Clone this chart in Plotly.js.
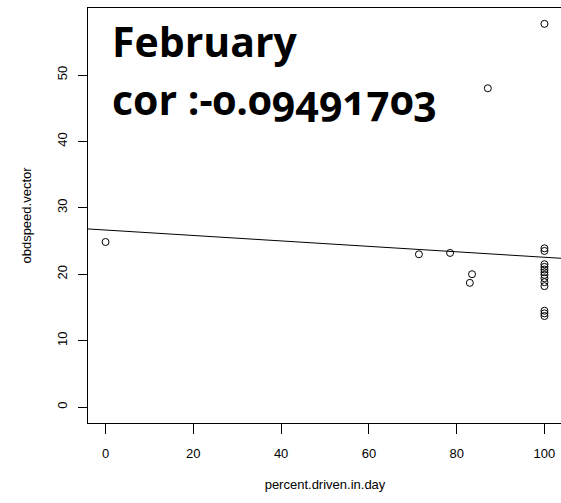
<!DOCTYPE html>
<html>
<head>
<meta charset="utf-8">
<script src="https://cdn.plot.ly/plotly-3.0.1.min.js"></script>
<style>
  html, body { margin: 0; padding: 0; overflow: hidden; background: #fff; }
  .annotation-text {
    font-variant-numeric: oldstyle-nums !important;
    font-feature-settings: "onum" 1 !important;
  }
</style>
</head>
<body>
<div id="chart"></div>
<script>
// February: share of the day driven vs. observed speed
const percentDriven = [0, 71.4, 78.5, 83.5, 83.0, 87.1, 100,
  100, 100, 100, 100, 100, 100, 100, 100, 100, 100, 100, 100, 100];
const obdSpeed = [24.85, 23.0, 23.2, 20.0, 18.7, 48.0, 57.7,
  23.9, 23.5, 21.5, 21.1, 20.7, 20.3, 19.9, 19.4, 18.8, 18.2, 14.5, 14.1, 13.7];

// least-squares fit line
const fitIntercept = 26.65;
const fitSlope = -0.041;
const fitX = [-4, 104];

const xTicks = [0, 20, 40, 60, 80, 100];
const yTicks = [0, 10, 20, 30, 40, 50];

const titleText = "February";
const corText = "cor :-0.09491703";

const fitY = fitX.map(x => fitIntercept + fitSlope * x);

const axisFont = { family: "Liberation Sans, Arial, sans-serif", size: 13, color: "#000" };
const noteFont = { family: "'Open Sans', Lato, sans-serif", size: 41, color: "#000" };

const traces = [
  {
    x: percentDriven, y: obdSpeed, type: "scatter", mode: "markers",
    marker: { symbol: "circle-open", size: 7, color: "#000", line: { width: 1, color: "#000" } },
    hoverinfo: "x+y"
  },
  {
    x: fitX, y: fitY, type: "scatter", mode: "lines",
    line: { color: "#000", width: 1 }, hoverinfo: "skip"
  }
];

const layout = {
  width: 563, height: 503,
  margin: { l: 88, r: 1, t: 8, b: 80 },
  paper_bgcolor: "#fff", plot_bgcolor: "#fff",
  showlegend: false,
  font: axisFont,
  xaxis: {
    range: [-4, 104], tickvals: xTicks, ticktext: xTicks.map(String),
    ticks: "outside", ticklen: 10, tickcolor: "#000", tickwidth: 1,
    showline: true, mirror: true, linecolor: "#000", linewidth: 1,
    showgrid: false, zeroline: false, tickfont: axisFont,
    ticklabelstandoff: 8,
    title: { text: "percent.driven.in.day", font: axisFont, standoff: 20 }
  },
  yaxis: {
    range: [-2.41, 60.09], tickvals: yTicks, ticktext: yTicks.map(String),
    ticks: "outside", ticklen: 9, tickcolor: "#000", tickwidth: 1,
    tickangle: -90,
    showline: true, mirror: true, linecolor: "#000", linewidth: 1,
    showgrid: false, zeroline: false, tickfont: axisFont,
    ticklabelstandoff: 6,
    title: { text: "obdspeed.vector", font: axisFont, standoff: 20 }
  },
  annotations: [
    {
      text: "<b>" + titleText + "</b>", xref: "paper", yref: "paper",
      x: 0, y: 1, xanchor: "left", yanchor: "top", xshift: 22, yshift: -3,
      showarrow: false, font: noteFont
    },
    {
      text: "<b>" + corText + "</b>", xref: "paper", yref: "paper",
      x: 0, y: 1, xanchor: "left", yanchor: "top", xshift: 22, yshift: -61,
      showarrow: false, font: noteFont
    }
  ]
};

Plotly.newPlot("chart", traces, layout, { displayModeBar: false, staticPlot: true });
</script>
</body>
</html>
